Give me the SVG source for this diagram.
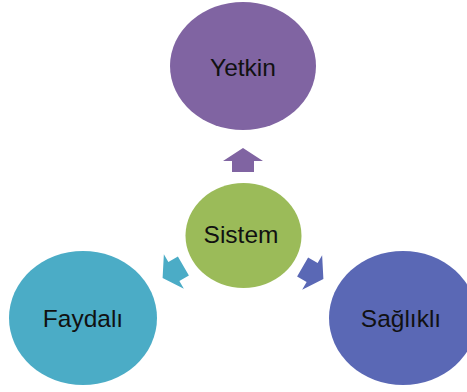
<svg xmlns="http://www.w3.org/2000/svg" width="467" height="392" viewBox="0 0 467 392">
  <defs>
    <style>
      .lbl { font-family: "Liberation Sans", Arial, sans-serif; font-size: 24.5px; fill: #111; text-anchor: middle; }
    </style>
    <polygon id="arr" points="0,-12 20,1 11,1 11,12 -11,12 -11,1 -20,1"/>
  </defs>
  <rect width="467" height="392" fill="#ffffff"/>
  <g id="connectors">
    <use href="#arr" transform="translate(243,160)" fill="#8064A2"/>
    <use href="#arr" transform="translate(173,272) rotate(-120)" fill="#4BACC6"/>
    <use href="#arr" transform="translate(313,273) rotate(120)" fill="#5A68B5"/>
  </g>
  <g id="yetkin">
    <ellipse cx="243" cy="66" rx="73" ry="64" fill="#8064A2"/>
    <text class="lbl" x="243" y="76">Yetkin</text>
  </g>
  <g id="sistem">
    <ellipse cx="243.5" cy="235.5" rx="58" ry="52.5" fill="#9BBB59"/>
    <text class="lbl" x="241" y="243">Sistem</text>
  </g>
  <g id="faydali">
    <ellipse cx="83" cy="318" rx="74" ry="67" fill="#4BACC6"/>
    <text class="lbl" x="83" y="327">Faydalı</text>
  </g>
  <g id="saglikli">
    <ellipse cx="403" cy="318" rx="74" ry="67" fill="#5A68B5"/>
    <text class="lbl" x="401" y="327">Sağlıklı</text>
  </g>
</svg>
